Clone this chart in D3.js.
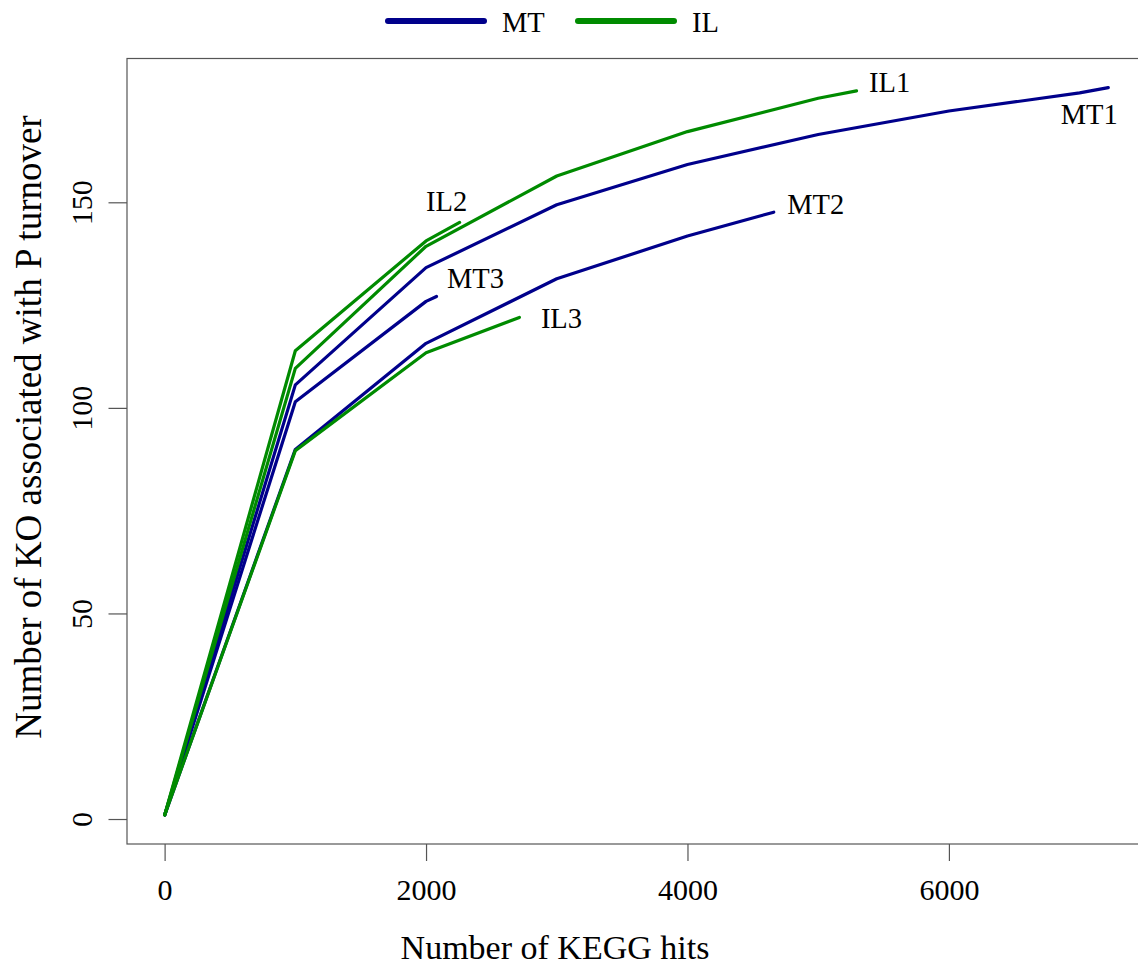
<!DOCTYPE html>
<html>
<head>
<meta charset="utf-8">
<script src="https://cdn.jsdelivr.net/npm/d3@7"></script>
<style>
    body { margin: 0; background: #fff; }
    text { font-family: "Liberation Serif", "Times New Roman", serif; fill: #000; }
</style>
</head>
<body>
<svg id="chart" width="1138" height="969"></svg>
<script>
// rarefaction curves: KEGG hits (x) vs number of KO (y)
const mt1Hits = [1, 1000, 2000, 3000, 4000, 5000, 6000, 7000, 7219];
const mt1KO   = [1, 105.6, 134.1, 149.4, 159.2, 166.5, 172.2, 176.6, 177.9];
const mt2Hits = [1, 1000, 2000, 3000, 4000, 4660];
const mt2KO   = [1, 89.9, 115.7, 131.4, 141.8, 147.6];
const mt3Hits = [1, 1000, 2000, 2080];
const mt3KO   = [1, 101.5, 125.9, 127.1];
const il1Hits = [1, 1000, 2000, 3000, 4000, 5000, 5293];
const il1KO   = [1, 109.6, 139.3, 156.4, 167.2, 175.3, 177.1];
const il2Hits = [1, 1000, 2000, 2257];
const il2KO   = [1, 113.9, 140.6, 145.1];
const il3Hits = [1, 1000, 2000, 2714];
const il3KO   = [1, 89.6, 113.4, 122.0];

const groups = ["MT", "IL"];
const xTicks = [0, 2000, 4000, 6000];
const yTicks = [0, 50, 100, 150];

const colors = {MT: "#00008B", IL: "#008B00"};

const series = [
    {name: "MT1", group: "MT", hits: mt1Hits, ko: mt1KO, lab: {dx: 9.5, dy: 36, anchor: "end"}},
    {name: "MT2", group: "MT", hits: mt2Hits, ko: mt2KO, lab: {dx: 13.5, dy: 1.7, anchor: "start"}},
    {name: "MT3", group: "MT", hits: mt3Hits, ko: mt3KO, lab: {dx: 10.5, dy: -8.4, anchor: "start"}},
    {name: "IL1", group: "IL", hits: il1Hits, ko: il1KO, lab: {dx: 12.5, dy: 1.3, anchor: "start"}},
    {name: "IL2", group: "IL", hits: il2Hits, ko: il2KO, lab: {dx: -13, dy: -11, anchor: "middle"}},
    {name: "IL3", group: "IL", hits: il3Hits, ko: il3KO, lab: {dx: 21.5, dy: 10.6, anchor: "start"}}
];
series.forEach(s => s.pts = s.hits.map((h, i) => ({x: h, y: s.ko[i]})));

// R style axis limits (range extended 4% each side)
function rlim(ext){ let r = ext[1]-ext[0]; return [ext[0]-0.04*r, ext[1]+0.04*r]; }
const xlim = rlim(d3.extent(series.flatMap(s => s.hits)));
const ylim = rlim(d3.extent(series.flatMap(s => s.ko)));

const svg = d3.select("#chart");
const x = d3.scaleLinear().domain(xlim).range([127, 1146]);
const y = d3.scaleLinear().domain(ylim).range([844, 58.5]);

// box
svg.append("rect")
    .attr("x", x(xlim[0])).attr("y", y(ylim[1]))
    .attr("width", x(xlim[1]) - x(xlim[0]))
    .attr("height", y(ylim[0]) - y(ylim[1]))
    .attr("fill", "none").attr("stroke", "#555").attr("stroke-width", 1.2);

// x axis
let gx = svg.append("g").attr("transform", `translate(0,${y(ylim[0])})`)
    .call(d3.axisBottom(x).tickValues(xTicks).tickFormat(d3.format("d")).tickSize(17).tickPadding(18));
gx.select(".domain").remove();
gx.selectAll(".tick line").attr("stroke", "#555").attr("stroke-width", 1.2);
gx.selectAll("text").style("font-size", "30px").attr("fill", "#000");

// y axis, labels parallel to axis
let gy = svg.append("g").attr("transform", `translate(${x(xlim[0])},0)`)
    .call(d3.axisLeft(y).tickValues(yTicks).tickSize(18.5));
gy.select(".domain").remove();
gy.selectAll(".tick line").attr("stroke", "#555").attr("stroke-width", 1.2);
gy.selectAll("text").style("font-size", "30px").attr("fill", "#000")
    .attr("x", 0).attr("dy", 0).attr("text-anchor", "middle")
    .attr("transform", "translate(-35,0) rotate(-90)");

// curves
const line = d3.line().x(d => x(d.x)).y(d => y(d.y));
svg.append("g").selectAll("path")
    .data(series).enter().append("path")
    .attr("d", d => line(d.pts))
    .attr("fill", "none")
    .attr("stroke", d => colors[d.group])
    .attr("stroke-width", 3.2)
    .attr("stroke-linejoin", "round")
    .attr("stroke-linecap", "round");

// end labels
svg.append("g").selectAll("text")
    .data(series).enter().append("text")
    .attr("x", d => x(d.hits[d.hits.length-1]) + d.lab.dx)
    .attr("y", d => y(d.ko[d.ko.length-1]) + d.lab.dy)
    .attr("text-anchor", d => d.lab.anchor)
    .style("font-size", "28.5px")
    .text(d => d.name);

// axis titles
svg.append("text").attr("x", 555).attr("y", 959)
    .attr("text-anchor", "middle").style("font-size", "34px")
    .text("Number of KEGG hits");
svg.append("text").attr("transform", "translate(41,427) rotate(-90)")
    .attr("text-anchor", "middle").style("font-size", "37px")
    .text("Number of KO associated with P turnover");

// legend on top
let leg = svg.append("g").selectAll("g")
    .data(groups).enter().append("g")
    .attr("transform", (d, i) => `translate(${388 + i*190},21)`);
leg.append("line").attr("x1", 0).attr("x2", 96).attr("y1", 0).attr("y2", 0)
    .attr("stroke", d => colors[d]).attr("stroke-width", 6).attr("stroke-linecap", "round");
leg.append("text").attr("x", 114).attr("y", 11).style("font-size", "28.5px").text(d => d);
</script>
</body>
</html>
